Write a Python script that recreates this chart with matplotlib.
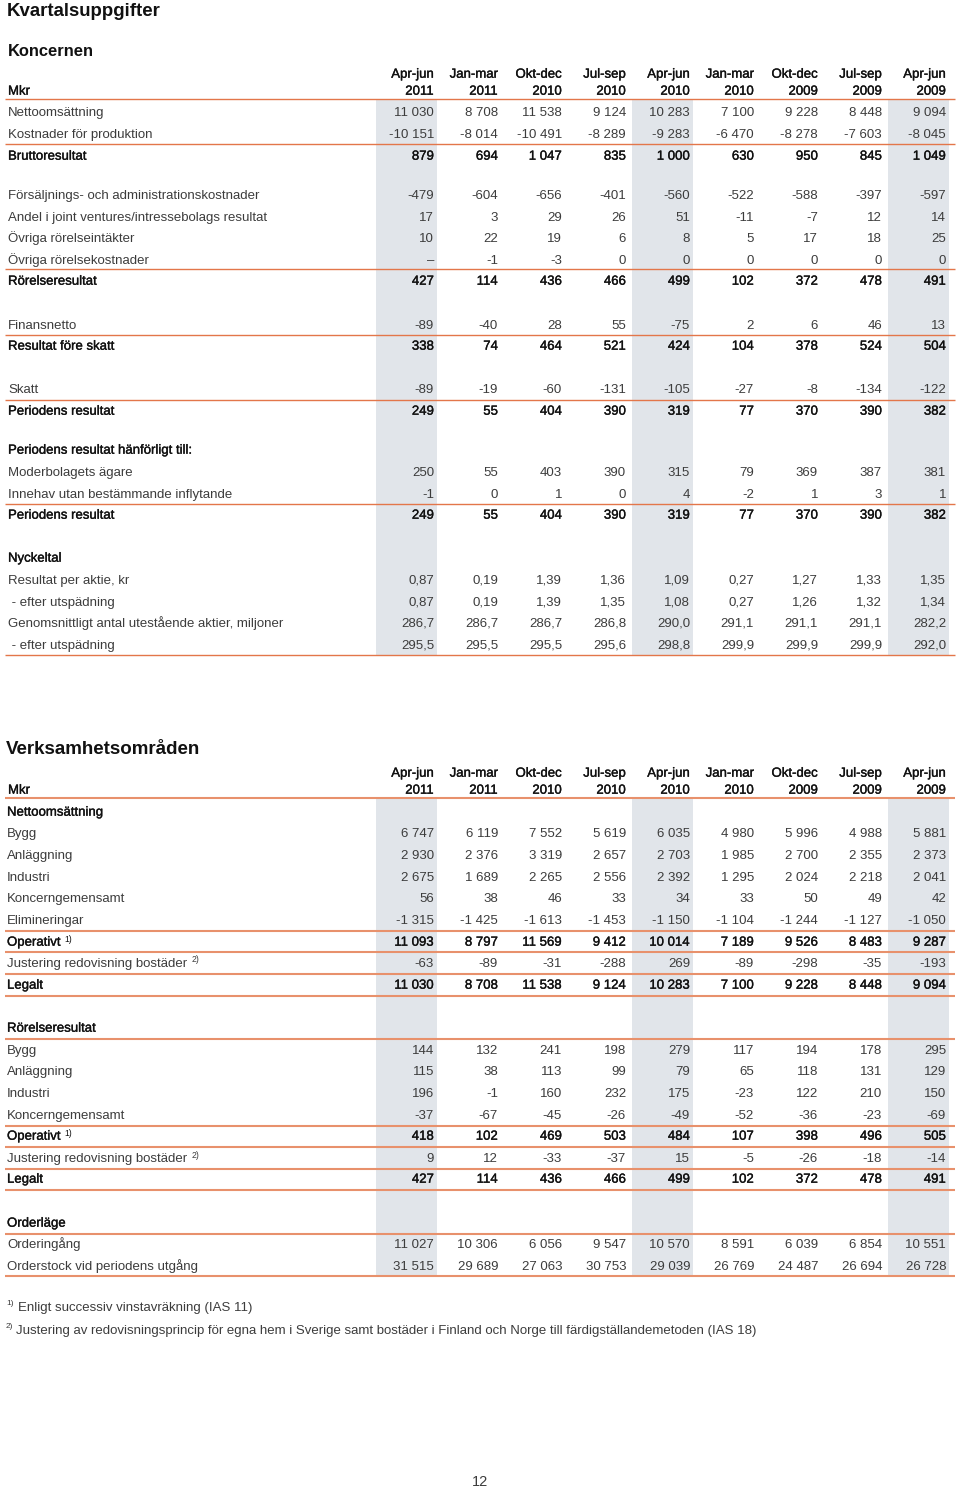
import matplotlib
matplotlib.use("Agg")
import matplotlib.pyplot as plt
import matplotlib.patheffects as pe

plt.rcParams['font.family'] = ['Liberation Sans', 'DejaVu Sans']

# ---------------- data ----------------
periods = ["Apr-jun", "Jan-mar", "Okt-dec", "Jul-sep", "Apr-jun", "Jan-mar", "Okt-dec", "Jul-sep", "Apr-jun"]
years = ["2011", "2011", "2010", "2010", "2010", "2010", "2009", "2009", "2009"]
shaded_cols = [0, 4, 8]

# Koncernen
nettoomsattning = [11030, 8708, 11538, 9124, 10283, 7100, 9228, 8448, 9094]
kostnader_produktion = [-10151, -8014, -10491, -8289, -9283, -6470, -8278, -7603, -8045]
bruttoresultat = [879, 694, 1047, 835, 1000, 630, 950, 845, 1049]
forsaljning_admin = [-479, -604, -656, -401, -560, -522, -588, -397, -597]
andel_jv = [17, 3, 29, 26, 51, -11, -7, 12, 14]
ovriga_intakter = [10, 22, 19, 6, 8, 5, 17, 18, 25]
ovriga_kostnader = [None, -1, -3, 0, 0, 0, 0, 0, 0]
rorelseresultat = [427, 114, 436, 466, 499, 102, 372, 478, 491]
finansnetto = [-89, -40, 28, 55, -75, 2, 6, 46, 13]
resultat_fore_skatt = [338, 74, 464, 521, 424, 104, 378, 524, 504]
skatt = [-89, -19, -60, -131, -105, -27, -8, -134, -122]
periodens_resultat = [249, 55, 404, 390, 319, 77, 370, 390, 382]
moderbolagets_agare = [250, 55, 403, 390, 315, 79, 369, 387, 381]
innehav_minoritet = [-1, 0, 1, 0, 4, -2, 1, 3, 1]
resultat_per_aktie = [0.87, 0.19, 1.39, 1.36, 1.09, 0.27, 1.27, 1.33, 1.35]
rpa_utspadning = [0.87, 0.19, 1.39, 1.35, 1.08, 0.27, 1.26, 1.32, 1.34]
antal_aktier = [286.7, 286.7, 286.7, 286.8, 290.0, 291.1, 291.1, 291.1, 282.2]
antal_aktier_utspadning = [295.5, 295.5, 295.5, 295.6, 298.8, 299.9, 299.9, 299.9, 292.0]

# Verksamhetsområden
netto_bygg = [6747, 6119, 7552, 5619, 6035, 4980, 5996, 4988, 5881]
netto_anlaggning = [2930, 2376, 3319, 2657, 2703, 1985, 2700, 2355, 2373]
netto_industri = [2675, 1689, 2265, 2556, 2392, 1295, 2024, 2218, 2041]
netto_koncerngem = [56, 38, 46, 33, 34, 33, 50, 49, 42]
netto_elim = [-1315, -1425, -1613, -1453, -1150, -1104, -1244, -1127, -1050]
netto_operativt = [11093, 8797, 11569, 9412, 10014, 7189, 9526, 8483, 9287]
netto_justering = [-63, -89, -31, -288, 269, -89, -298, -35, -193]
netto_legalt = [11030, 8708, 11538, 9124, 10283, 7100, 9228, 8448, 9094]
rr_bygg = [144, 132, 241, 198, 279, 117, 194, 178, 295]
rr_anlaggning = [115, 38, 113, 99, 79, 65, 118, 131, 129]
rr_industri = [196, -1, 160, 232, 175, -23, 122, 210, 150]
rr_koncerngem = [-37, -67, -45, -26, -49, -52, -36, -23, -69]
rr_operativt = [418, 102, 469, 503, 484, 107, 398, 496, 505]
rr_justering = [9, 12, -33, -37, 15, -5, -26, -18, -14]
rr_legalt = [427, 114, 436, 466, 499, 102, 372, 478, 491]
orderingang = [11027, 10306, 6056, 9547, 10570, 8591, 6039, 6854, 10551]
orderstock = [31515, 29689, 27063, 30753, 29039, 26769, 24487, 26694, 26728]

footnote1 = "Enligt successiv vinstavräkning (IAS 11)"
footnote2 = "Justering av redovisningsprincip för egna hem i Sverige samt bostäder i Finland och Norge till färdigställandemetoden (IAS 18)"

# ---------------- layout / style ----------------
W, H = 960, 1488
fig = plt.figure(figsize=(W / 100, H / 100), dpi=100)
ax = fig.add_axes([0, 0, 1, 1])
ax.set_xlim(0, W)
ax.set_ylim(H, 0)
ax.axis('off')

FS = 9.5
LIGHT = '#3c3c3c'
DARK = '#111111'
ORANGE = '#E3764A'
ORANGE2 = '#E8916C'
SHADE = '#E1E5EA'
col_right = [434 + 64 * i for i in range(9)]
X0, X1 = 5, 955
medium = [pe.withStroke(linewidth=0.25, foreground=DARK)]
BL = 4.7  # baseline offset from row centre


def fmt(v, dec):
    if v is None:
        return "–"
    if dec == 0:
        s = f"{abs(int(v)):,}".replace(",", " ")
        return ("-" if v < 0 else "") + s
    return f"{v:.{dec}f}".replace(".", ",")


renderer = fig.canvas.get_renderer()


def label(x, y, s, bold=False, size=FS, sup=None):
    t = ax.text(x, y + BL, s, fontsize=size, color=DARK if bold else LIGHT,
                va='baseline', ha='left',
                path_effects=medium if bold else None)
    if sup:
        bb = t.get_window_extent(renderer)
        ax.text(bb.x1 + 4, y + 0.5, sup, fontsize=6.2, color=DARK if bold else LIGHT,
                va='baseline', ha='left')
    return t


def row(y, name, vals, dec=0, bold=False, sup=None, x=8):
    label(x, y, name, bold=bold, sup=sup)
    for i, v in enumerate(vals):
        ax.text(col_right[i], y + BL, fmt(v, dec), fontsize=FS,
                color=DARK if bold else LIGHT, va='baseline', ha='right',
                path_effects=medium if bold else None)


def header(y_top, y_bot):
    for i in range(9):
        ax.text(col_right[i], y_top + BL, periods[i], fontsize=FS, color=DARK,
                ha='right', va='baseline', path_effects=medium)
        ax.text(col_right[i], y_bot + BL, years[i], fontsize=FS, color=DARK,
                ha='right', va='baseline', path_effects=medium)
    label(8, y_bot, "Mkr", bold=True)


def shade(y0, y1):
    for c in shaded_cols:
        ax.axvspan(col_right[c] - 58, col_right[c] + 3, ymin=1 - y1 / H, ymax=1 - y0 / H,
                   color=SHADE, lw=0, zorder=0)


def hline(y, lw=1.0, color=ORANGE):
    ax.plot([X0, X1], [y + 0.5, y + 0.5], color=color, lw=lw,
            solid_capstyle='butt', zorder=2, antialiased=True)


def hline2(y):
    hline(y, lw=1.5, color=ORANGE2)


# ---------------- Koncernen ----------------
ax.text(7, 10 + 6.5, "Kvartalsuppgifter", fontsize=13.4, fontweight='bold', color=DARK,
        va='baseline')
ax.text(8, 50 + 5.8, "Koncernen", fontsize=11.9, fontweight='bold', color=DARK,
        va='baseline')
shade(99, 655)
header(73, 90)
hline(98)
row(111, "Nettoomsättning", nettoomsattning)
row(133, "Kostnader för produktion", kostnader_produktion)
hline(143)
row(155, "Bruttoresultat", bruttoresultat, bold=True)
row(194, "Försäljnings- och administrationskostnader", forsaljning_admin)
row(216, "Andel i joint ventures/intressebolags resultat", andel_jv)
row(237, "Övriga rörelseintäkter", ovriga_intakter)
row(259, "Övriga rörelsekostnader", ovriga_kostnader)
hline(268)
row(280, "Rörelseresultat", rorelseresultat, bold=True)
row(324, "Finansnetto", finansnetto)
hline(334)
row(345, "Resultat före skatt", resultat_fore_skatt, bold=True)
row(388, "Skatt", skatt)
hline(399)
row(410, "Periodens resultat", periodens_resultat, bold=True)
label(8, 449, "Periodens resultat hänförligt till:", bold=True)
row(471, "Moderbolagets ägare", moderbolagets_agare)
row(493, "Innehav utan bestämmande inflytande", innehav_minoritet)
hline(503)
row(514, "Periodens resultat", periodens_resultat, bold=True)
label(8, 557, "Nyckeltal", bold=True)
row(579, "Resultat per aktie, kr", resultat_per_aktie, dec=2)
row(601, " - efter utspädning", rpa_utspadning, dec=2)
row(622, "Genomsnittligt antal utestående aktier, miljoner", antal_aktier, dec=1)
row(644, " - efter utspädning", antal_aktier_utspadning, dec=1)
hline(654)

# ---------------- Verksamhetsområden ----------------
ax.text(6, 748 + 6.5, "Verksamhetsområden", fontsize=13.5, fontweight='bold', color=DARK,
        va='baseline')
shade(798, 1276)
header(772, 789)
hline2(797)
label(7, 811, "Nettoomsättning", bold=True)
row(832, "Bygg", netto_bygg, x=7)
row(854, "Anläggning", netto_anlaggning, x=7)
row(876, "Industri", netto_industri, x=7)
row(897, "Koncerngemensamt", netto_koncerngem, x=7)
row(919, "Elimineringar", netto_elim, x=7)
hline2(930)
row(941, "Operativt", netto_operativt, bold=True, sup="1)", x=7)
hline2(951)
row(962, "Justering redovisning bostäder", netto_justering, sup="2)", x=7)
hline2(973)
row(984, "Legalt", netto_legalt, bold=True, x=7)
hline2(995)

label(7, 1027, "Rörelseresultat", bold=True)
hline2(1038)
row(1049, "Bygg", rr_bygg, x=7)
row(1070, "Anläggning", rr_anlaggning, x=7)
row(1092, "Industri", rr_industri, x=7)
row(1114, "Koncerngemensamt", rr_koncerngem, x=7)
hline2(1125)
row(1135, "Operativt", rr_operativt, bold=True, sup="1)", x=7)
hline2(1146)
row(1157, "Justering redovisning bostäder", rr_justering, sup="2)", x=7)
hline2(1168)
row(1178, "Legalt", rr_legalt, bold=True, x=7)
hline2(1189)

label(7, 1222, "Orderläge", bold=True)
hline2(1233)
row(1243, "Orderingång", orderingang, x=7)
row(1265, "Orderstock vid periodens utgång", orderstock, x=7)
hline2(1275)

# ---------------- footnotes ----------------
ax.text(6, 1305, "1)", fontsize=6.0, color=LIGHT, va='baseline')
ax.text(18, 1306 + BL, footnote1, fontsize=9.5, color=LIGHT, va='baseline')
ax.text(6, 1328, "2)", fontsize=6.0, color=LIGHT, va='baseline')
ax.text(16, 1329 + BL, footnote2, fontsize=9.5, color=LIGHT, va='baseline')
ax.text(480, 1481 + 5, "12", fontsize=10.5, color=LIGHT, ha='center', va='baseline')

fig.savefig("out.png", dpi=100)
